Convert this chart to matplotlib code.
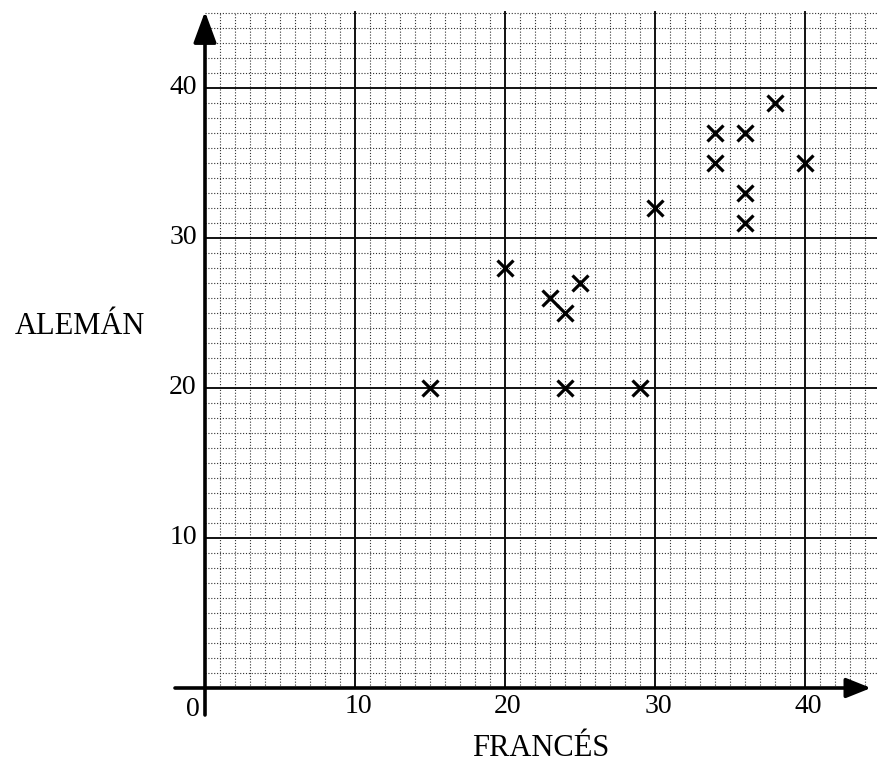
import matplotlib
matplotlib.use("Agg")
import matplotlib.pyplot as plt
import numpy as np

# Data
frances = [15, 20, 23, 24, 25, 24, 29, 30, 34, 34, 36, 36, 36, 38, 40]
aleman = [20, 28, 26, 25, 27, 20, 20, 32, 37, 35, 37, 33, 31, 39, 35]
x_ticks = [10, 20, 30, 40]
y_ticks = [10, 20, 30, 40]
x_label = "FRANCÉS"
y_label = "ALEMÁN"

W, H = 878, 767
fig = plt.figure(figsize=(W / 100, H / 100), dpi=100)
ax = fig.add_axes([0, 0, 1, 1])
ox, oy, s = 205, 688, 15.0
ax.set_xlim(-ox / s, (W - ox) / s)
ax.set_ylim((oy - H) / s, oy / s)
ax.axis("off")

serif = ["Liberation Serif", "DejaVu Serif"]
gx_max, gy_max = 44.9, 45.05

# minor grid (dotted)
for v in range(1, 45):
    if v % 10:
        ax.plot([v, v], [0, gy_max], color="#333333", lw=0.8, ls=(0, (1, 1.6)), zorder=1)
for v in range(1, 46):
    if v % 10:
        ax.plot([0, gx_max], [v, v], color="#333333", lw=0.8, ls=(0, (1, 1.6)), zorder=1)
# major grid
for v in x_ticks:
    ax.plot([v, v], [0, gy_max], color="#111111", lw=1.4, zorder=2)
for v in y_ticks:
    ax.plot([0, gx_max], [v, v], color="#111111", lw=1.4, zorder=2)

# axes with arrows
ax.annotate("", xy=(44.4, 0), xytext=(-2.0, 0),
            arrowprops=dict(arrowstyle="-|>,head_length=1.5,head_width=0.6",
                            lw=2.6, color="black", shrinkA=0, shrinkB=0), zorder=4)
ax.annotate("", xy=(0, 45.1), xytext=(0, -1.8),
            arrowprops=dict(arrowstyle="-|>,head_length=1.9,head_width=0.7",
                            lw=2.6, color="black", shrinkA=0, shrinkB=0), zorder=4)

# points
ax.plot(frances, aleman, ls="none", marker="x", ms=11.5, mew=2.3, color="black", zorder=5)

# tick labels
for v in x_ticks:
    ax.text(v + 0.2, -1.25, str(v), ha="center", va="center", fontsize=20, family=serif)
ax.text(-0.35, -1.4, "0", ha="right", va="center", fontsize=20, family=serif)
for v in y_ticks:
    ax.text(-0.55, v, str(v), ha="right", va="center", fontsize=20, family=serif)

# axis labels
ax.text(22.35, -4.0, x_label, ha="center", va="center", fontsize=22, family=serif)
ax.text(-8.37, 24.1, y_label, ha="center", va="center", fontsize=22, family=serif)

fig.savefig("out.png", dpi=100, facecolor="white")
